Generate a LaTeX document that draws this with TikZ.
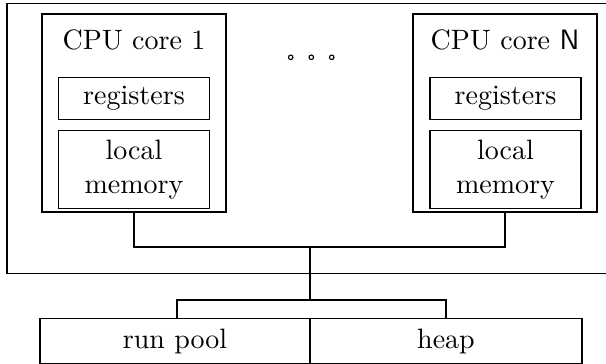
\documentclass[tikz,border=0pt]{standalone}
\begin{document}
\begin{tikzpicture}[x=0.357pt,y=-0.357pt,
  corebox/.style={draw,line width=0.8pt,minimum width=184*0.357pt,minimum height=198*0.357pt,inner sep=0pt},
  innerbox/.style={draw,line width=0.4pt,minimum width=151*0.357pt,inner sep=0pt,align=center},
  poolbox/.style={draw,line width=0.4pt,minimum height=45*0.357pt,inner sep=0pt},
  dot/.style={circle,draw,line width=0.4pt,inner sep=0pt,minimum size=4.5*0.357pt},
  bus/.style={line width=0.8pt}]
\useasboundingbox (0,0) rectangle (606,364);
\draw[line width=0.4pt] (7,3.5) rectangle (615,273.5);
% core 1
\node[corebox] (core1) at (134,113) {};
\node (t1) at (134,40) {CPU core 1};
\node[innerbox,minimum height=42*0.357pt] (reg1) at (134,98.2) {registers};
\node[innerbox,minimum height=78.5*0.357pt] (loc1) at (134,169.4) {local\\memory};
% core N
\node[corebox] (coreN) at (505,113) {};
\node (tN) at (505,40) {CPU core \textsf{N}};
\node[innerbox,minimum height=42*0.357pt] (regN) at (505.5,98.2) {registers};
\node[innerbox,minimum height=78.5*0.357pt] (locN) at (505.5,169.4) {local\\memory};
% dots
\node[dot] (d1) at (290.7,57.3) {};
\node[dot] (d2) at (311.3,57.3) {};
\node[dot] (d3) at (331.7,57.3) {};
% bottom
\node[poolbox,minimum width=270*0.357pt] (run) at (175,341.2) {run pool};
\node[poolbox,minimum width=272*0.357pt] (heap) at (446,341.2) {heap};
% connectors
\coordinate (b1) at (134,247);
\coordinate (bN) at (505,247);
\coordinate (bm) at (310,247);
\coordinate (j) at (310,300);
\draw[bus] (core1.south) -- (b1) -- (bN) -- (coreN.south);
\draw[bus] (bm) -- (j);
\draw[bus] (run.north -| 176.7,0) |- (j) -| (heap.north);
\end{tikzpicture}
\end{document}
